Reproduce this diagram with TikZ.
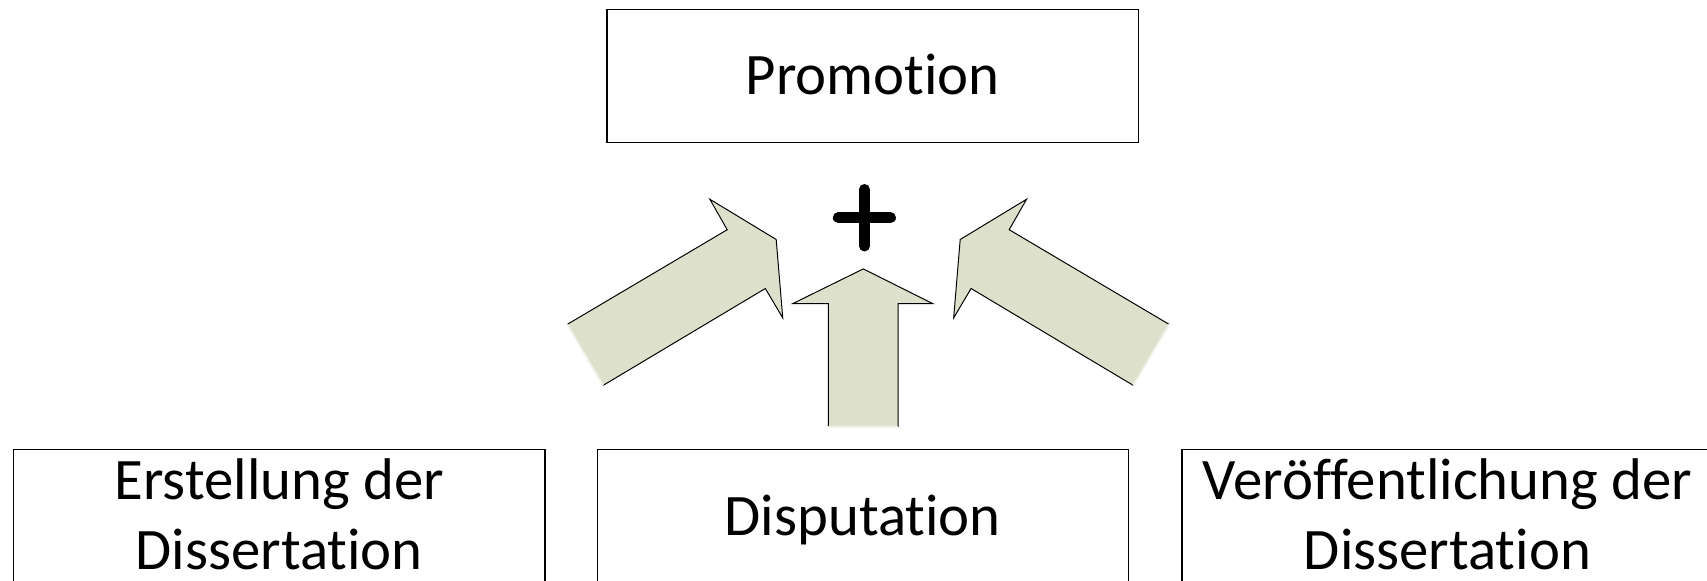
\documentclass[tikz,border=0pt]{standalone}
\usepackage{fontspec}
\setmainfont{Carlito}[Ligatures={NoCommon,NoContextual},RawFeature=-calt]
\definecolor{arrowfill}{RGB}{221,225,204}
\definecolor{tailline}{RGB}{240,242,232}
\begin{document}
\begin{tikzpicture}[x=1pt,y=1pt,
  box/.style={draw,line width=1.2pt,minimum width=488pt,minimum height=122pt,inner sep=0pt,anchor=north west},
  lbl/.style={font=\fontsize{54}{65}\selectfont,anchor=base,inner sep=0pt},
  plusbar/.style={line width=10pt,line cap=round},
  arrfill/.style={fill=arrowfill},
  arredge/.style={draw=black,line width=0.9pt,line join=miter},
  tailedge/.style={draw=tailline,line width=1.6pt}]
\useasboundingbox (0,0) rectangle (1568,-533);
\clip (0,0) rectangle (1568,-533);

% boxes
\node[box] (prom) at (557,-8) {};
\node[box] (erst) at (12,-412) {};
\node[box] (disp) at (548,-412) {};
\node[box] (veroe) at (1085,-412) {};

% texts
\node[lbl] (promtxt) at (prom.center |- 0,-87) {Promotion};
\node[lbl] (erst1) at (erst.center |- 0,-459) {Erstellung der};
\node[lbl] (erst2) at (erst.center |- 0,-523) {Dissertation};
\node[lbl] (disptxt) at (disp.center |- 0,-492) {Disputation};
\node[lbl] (veroe1) at (veroe.center |- 0,-459) {Veröffentlichung der};
\node[lbl] (veroe2) at (veroe.center |- 0,-523) {Dissertation};

% plus
\coordinate (plusc) at (794,-200);
\draw[plusbar] ([xshift=-24pt]plusc) -- ([xshift=24pt]plusc);
\draw[plusbar] ([yshift=26pt]plusc) -- ([yshift=-26pt]plusc);

% left arrow
\fill[arrfill] (521,-298) -- (668,-211) -- (652,-183) -- (713,-220) -- (719,-292) -- (703,-265) -- (554,-354) -- cycle;
\draw[arredge] (554,-354) -- (703,-265) -- (719,-292) -- (713,-220) -- (652,-183) -- (668,-211) -- (521,-298);
\draw[tailedge] (521,-298) -- (554,-354);

% right arrow
\fill[arrfill] (1074,-298) -- (927,-211) -- (943,-183) -- (882,-220) -- (876,-292) -- (892,-265) -- (1041,-354) -- cycle;
\draw[arredge] (1041,-354) -- (892,-265) -- (876,-292) -- (882,-220) -- (943,-183) -- (927,-211) -- (1074,-298);
\draw[tailedge] (1074,-298) -- (1041,-354);

% center arrow
\fill[arrfill] (793,-247) -- (857,-279) -- (825,-279) -- (825,-392) -- (761,-392) -- (761,-279) -- (728,-279) -- cycle;
\draw[arredge] (825,-392) -- (825,-279) -- (857,-279) -- (793,-247) -- (728,-279) -- (761,-279) -- (761,-392);
\draw[tailedge] (761,-392) -- (825,-392);
\end{tikzpicture}
\end{document}
